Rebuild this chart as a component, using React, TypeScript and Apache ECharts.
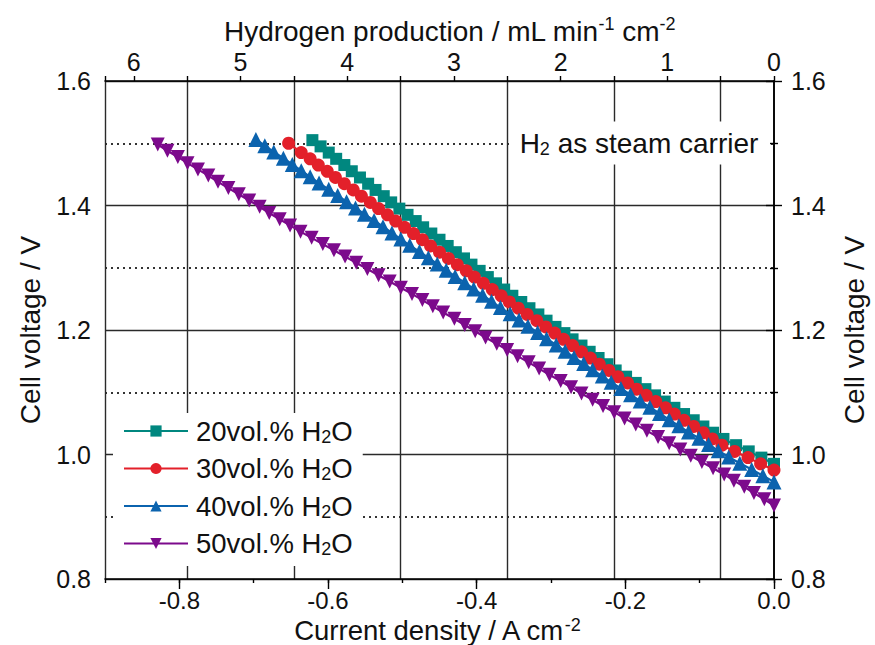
import React, { useEffect, useRef } from "react";
import * as echarts from "echarts";

// [current density (A cm^-2), cell voltage (V)]
const h2o20: number[][] = [
  [0.0, 0.985], [-0.017, 0.995], [-0.034, 1.005], [-0.051, 1.015], [-0.068, 1.025],
  [-0.082, 1.035], [-0.095, 1.045], [-0.108, 1.055], [-0.121, 1.065], [-0.134, 1.075],
  [-0.147, 1.085], [-0.16, 1.095], [-0.173, 1.105], [-0.186, 1.115], [-0.199, 1.125],
  [-0.213, 1.135], [-0.224, 1.145], [-0.236, 1.155], [-0.248, 1.165], [-0.259, 1.175],
  [-0.271, 1.185], [-0.282, 1.195], [-0.294, 1.205], [-0.306, 1.215], [-0.317, 1.225],
  [-0.329, 1.235], [-0.34, 1.245], [-0.352, 1.255], [-0.363, 1.265], [-0.374, 1.275],
  [-0.385, 1.285], [-0.396, 1.295], [-0.407, 1.305], [-0.417, 1.315], [-0.428, 1.325],
  [-0.439, 1.335], [-0.45, 1.345], [-0.461, 1.355], [-0.472, 1.365], [-0.482, 1.375],
  [-0.493, 1.385], [-0.504, 1.395], [-0.515, 1.405], [-0.525, 1.415], [-0.536, 1.425],
  [-0.546, 1.435], [-0.557, 1.445], [-0.568, 1.455], [-0.578, 1.465], [-0.589, 1.475],
  [-0.599, 1.485], [-0.61, 1.495], [-0.621, 1.505],
];

const h2o30: number[][] = [
  [0.0, 0.975], [-0.018, 0.985], [-0.035, 0.995], [-0.053, 1.005], [-0.07, 1.015],
  [-0.083, 1.025], [-0.095, 1.035], [-0.108, 1.045], [-0.121, 1.055], [-0.134, 1.065],
  [-0.146, 1.075], [-0.159, 1.085], [-0.172, 1.095], [-0.185, 1.105], [-0.197, 1.115],
  [-0.21, 1.125], [-0.222, 1.135], [-0.235, 1.145], [-0.247, 1.155], [-0.259, 1.165],
  [-0.271, 1.175], [-0.283, 1.185], [-0.295, 1.195], [-0.307, 1.205], [-0.319, 1.215],
  [-0.332, 1.225], [-0.344, 1.235], [-0.356, 1.245], [-0.367, 1.255], [-0.379, 1.265],
  [-0.391, 1.275], [-0.403, 1.285], [-0.414, 1.295], [-0.426, 1.305], [-0.438, 1.315],
  [-0.45, 1.325], [-0.462, 1.335], [-0.473, 1.345], [-0.485, 1.355], [-0.497, 1.365],
  [-0.509, 1.375], [-0.52, 1.385], [-0.532, 1.395], [-0.543, 1.405], [-0.555, 1.415],
  [-0.566, 1.425], [-0.578, 1.435], [-0.59, 1.445], [-0.601, 1.455], [-0.613, 1.465],
  [-0.624, 1.475], [-0.636, 1.485], [-0.653, 1.5],
];

const h2o40: number[][] = [
  [0.0, 0.956], [-0.015, 0.966], [-0.03, 0.976], [-0.046, 0.986], [-0.061, 0.996],
  [-0.075, 1.006], [-0.088, 1.016], [-0.101, 1.026], [-0.115, 1.036], [-0.128, 1.046],
  [-0.141, 1.056], [-0.154, 1.066], [-0.167, 1.076], [-0.18, 1.086], [-0.193, 1.096],
  [-0.206, 1.106], [-0.219, 1.116], [-0.231, 1.126], [-0.244, 1.136], [-0.256, 1.146],
  [-0.269, 1.156], [-0.281, 1.166], [-0.293, 1.176], [-0.306, 1.186], [-0.318, 1.196],
  [-0.331, 1.206], [-0.343, 1.216], [-0.355, 1.226], [-0.368, 1.236], [-0.38, 1.246],
  [-0.392, 1.256], [-0.404, 1.266], [-0.416, 1.276], [-0.429, 1.286], [-0.441, 1.296],
  [-0.453, 1.306], [-0.465, 1.316], [-0.477, 1.326], [-0.49, 1.336], [-0.502, 1.346],
  [-0.514, 1.356], [-0.526, 1.366], [-0.538, 1.376], [-0.551, 1.386], [-0.563, 1.396],
  [-0.575, 1.406], [-0.587, 1.416], [-0.599, 1.426], [-0.612, 1.436], [-0.624, 1.446],
  [-0.636, 1.456], [-0.648, 1.466], [-0.66, 1.476], [-0.673, 1.486], [-0.685, 1.496],
  [-0.697, 1.506],
];

const h2o50: number[][] = [
  [0.0, 0.918], [-0.013, 0.928], [-0.027, 0.938], [-0.04, 0.948], [-0.054, 0.958],
  [-0.067, 0.968], [-0.082, 0.978], [-0.097, 0.988], [-0.112, 0.998], [-0.126, 1.008],
  [-0.141, 1.018], [-0.156, 1.028], [-0.171, 1.038], [-0.186, 1.048], [-0.201, 1.058],
  [-0.215, 1.068], [-0.23, 1.078], [-0.244, 1.088], [-0.259, 1.098], [-0.273, 1.108],
  [-0.287, 1.118], [-0.302, 1.128], [-0.316, 1.138], [-0.33, 1.148], [-0.345, 1.158],
  [-0.359, 1.168], [-0.373, 1.178], [-0.388, 1.188], [-0.402, 1.198], [-0.416, 1.208],
  [-0.43, 1.218], [-0.445, 1.228], [-0.459, 1.238], [-0.473, 1.248], [-0.487, 1.258],
  [-0.502, 1.268], [-0.517, 1.278], [-0.532, 1.288], [-0.547, 1.298], [-0.562, 1.308],
  [-0.577, 1.318], [-0.592, 1.328], [-0.607, 1.338], [-0.622, 1.348], [-0.637, 1.358],
  [-0.651, 1.368], [-0.665, 1.378], [-0.679, 1.388], [-0.692, 1.398], [-0.706, 1.408],
  [-0.72, 1.418], [-0.734, 1.428], [-0.748, 1.438], [-0.761, 1.448], [-0.775, 1.458],
  [-0.789, 1.468], [-0.802, 1.478], [-0.816, 1.488], [-0.829, 1.498],
];

const seriesNames = ["20vol.% H2O", "30vol.% H2O", "40vol.% H2O", "50vol.% H2O"];
const seriesColors = ["#00877f", "#e3202a", "#0b63ae", "#7c0a8c"];
const currentTicks = [-0.8, -0.6, -0.4, -0.2, 0.0];
const hydrogenTicks = [0, 1, 2, 3, 4, 5, 6];
const voltageTicks = [0.8, 1.0, 1.2, 1.4, 1.6];
const annotation = "H{s|2} as steam carrier";

const FONT = '"Liberation Sans", Arial, Helvetica, sans-serif';
const INK = "#111";

export default function App() {
  const ref = useRef<HTMLDivElement>(null);

  useEffect(() => {
    if (!ref.current) return;
    const chart = echarts.init(ref.current, undefined, { renderer: "svg" });

    const axisLine = { show: true, lineStyle: { color: "#000", width: 1.6 } };
    const tickLabel = { fontSize: 25, color: INK, fontFamily: FONT };
    const nameStyle = (padding: number[]) => ({
      fontSize: 28,
      color: INK,
      fontFamily: FONT,
      padding,
      rich: {
        sup: { fontSize: 18, fontFamily: FONT, color: INK, padding: [0, 0, 15, 0] },
      },
    });
    const isNear = (v: number, list: number[]) => list.some((t) => Math.abs(t - v) < 1e-6);

    const data = [h2o20, h2o30, h2o40, h2o50];
    const symbols = ["rect", "circle", "triangle", "triangle"];
    const sizes = [12, 13, 15, 14];
    const rotates = [0, 0, 0, 180];

    const option: any = {
      animation: false,
      backgroundColor: "#fff",
      textStyle: { fontFamily: FONT },
      grid: [
        { left: 105, right: 101, top: 81, bottom: 66, outerBoundsMode: "none" },
        { left: 179.33, right: 101, top: 81, bottom: 66, outerBoundsMode: "none" },
      ],
      xAxis: [
        {
          gridIndex: 0,
          type: "value",
          position: "bottom",
          min: -0.9,
          max: 0,
          interval: 0.1,
          axisLine,
          axisTick: { show: true, inside: false, length: 4, lineStyle: { color: "#000", width: 1.4 } },
          axisLabel: { show: false },
          splitLine: { show: false },
        },
        {
          gridIndex: 0,
          type: "value",
          position: "top",
          inverse: true,
          min: 0,
          max: 6.27,
          interval: 0.5,
          axisLine,
          axisTick: { show: true, inside: false, length: 5, lineStyle: { color: "#000", width: 1.4 } },
          axisLabel: {
            ...tickLabel,
            margin: 7,
            formatter: (v: number) => (isNear(v, hydrogenTicks) ? String(Math.round(v)) : ""),
          },
          splitLine: {
            show: true,
            lineStyle: { color: ["rgba(0,0,0,0)", "#2a2a2a"], width: 1.4, type: "solid" },
          },
          name: "Hydrogen production / mL min{sup|-1} cm{sup|-2}",
          nameLocation: "middle",
          nameGap: 33,
          nameMoveOverlap: false,
          nameTextStyle: nameStyle([0, 0, 0, 20]),
        },
        {
          gridIndex: 1,
          type: "value",
          position: "bottom",
          min: -0.8,
          max: 0,
          interval: 0.2,
          axisLine: { show: false },
          axisTick: { show: true, inside: false, length: 10, lineStyle: { color: "#000", width: 1.4 } },
          axisLabel: {
            ...tickLabel,
            fontSize: 24,
            margin: 9,
            lineHeight: 24,
            formatter: (v: number) => (isNear(v, currentTicks) ? v.toFixed(1) : ""),
          },
          splitLine: { show: false },
          name: "Current density / A cm{sup|-2}",
          nameLocation: "middle",
          nameGap: 37,
          nameMoveOverlap: false,
          nameTextStyle: {
            fontSize: 27.5,
            lineHeight: 28,
            color: INK,
            fontFamily: FONT,
            padding: [0, 80, 0, 0],
            rich: {
              sup: { fontSize: 18, lineHeight: 18, fontFamily: FONT, color: INK, verticalAlign: "top" },
            },
          },
        },
      ],
      yAxis: [
        {
          gridIndex: 0,
          type: "value",
          position: "left",
          min: 0.8,
          max: 1.6,
          interval: 0.2,
          axisLine,
          axisTick: { show: true, inside: false, length: 8, lineStyle: { color: "#000", width: 1.4 } },
          minorTick: { show: true, splitNumber: 2, length: 4, lineStyle: { color: "#000", width: 1.4 } },
          axisLabel: {
            ...tickLabel,
            margin: 14,
            formatter: (v: number) => (isNear(v, voltageTicks) ? v.toFixed(1) : ""),
          },
          splitLine: { show: true, lineStyle: { color: "#2a2a2a", width: 1.4, type: "solid" } },
          minorSplitLine: { show: true, lineStyle: { color: "#333", width: 1.8, type: [2, 4] } },
          name: "Cell voltage / V",
          nameLocation: "middle",
          nameRotate: 90,
          nameGap: 61,
          nameMoveOverlap: false,
          nameTextStyle: nameStyle([0, 0, 0, 0]),
        },
        {
          gridIndex: 0,
          type: "value",
          position: "right",
          min: 0.8,
          max: 1.6,
          interval: 0.2,
          axisLine,
          axisTick: { show: true, inside: false, length: 8, lineStyle: { color: "#000", width: 1.4 } },
          minorTick: { show: true, splitNumber: 2, length: 4, lineStyle: { color: "#000", width: 1.4 } },
          axisLabel: {
            ...tickLabel,
            margin: 17,
            formatter: (v: number) => (isNear(v, voltageTicks) ? v.toFixed(1) : ""),
          },
          splitLine: { show: false },
          name: "Cell voltage / V",
          nameLocation: "middle",
          nameRotate: 90,
          nameGap: 66,
          nameMoveOverlap: false,
          nameTextStyle: nameStyle([0, 0, 0, 0]),
        },
        {
          gridIndex: 1,
          type: "value",
          min: 0.8,
          max: 1.6,
          show: false,
        },
      ],
      legend: {
        orient: "vertical",
        left: 113,
        top: 413,
        backgroundColor: "#fff",
        padding: [4, 10, 8, 10],
        itemWidth: 64,
        itemHeight: 14,
        itemGap: 9,
        data: seriesNames,
        formatter: (name: string) => name.replace("H2O", "H{s|2}O"),
        textStyle: {
          fontSize: 27.5,
          color: INK,
          fontFamily: FONT,
          padding: [0, 0, 0, 3],
          rich: { s: { fontSize: 18, fontFamily: FONT, color: INK, padding: [11, 0, 0, 0] } },
        },
      },
      graphic: [
        {
          type: "text",
          z: 10,
          x: 639,
          y: 143,
          style: {
            text: annotation,
            fontSize: 28,
            fontFamily: FONT,
            fill: INK,
            align: "center",
            verticalAlign: "middle",
            backgroundColor: "#fff",
            padding: [7, 10, 7, 10],
            rich: { s: { fontSize: 18, fontFamily: FONT, fill: INK, padding: [11, 0, 0, 0] } },
          },
        },
      ],
      series: data.map((d, i) => ({
        name: seriesNames[i],
        type: "line",
        xAxisIndex: 0,
        yAxisIndex: 0,
        data: d,
        symbol: symbols[i],
        symbolSize: sizes[i],
        symbolRotate: rotates[i],
        showAllSymbol: true,
        color: seriesColors[i],
        lineStyle: { color: seriesColors[i], width: 2.2 },
        itemStyle: { color: seriesColors[i] },
        emphasis: { disabled: true },
        z: 2 + i,
      })),
    };

    chart.setOption(option);
    return () => chart.dispose();
  }, []);

  return (
    <div
      ref={ref}
      style={{ position: "fixed", left: 0, top: 0, width: 875, height: 645, background: "#fff" }}
    />
  );
}
